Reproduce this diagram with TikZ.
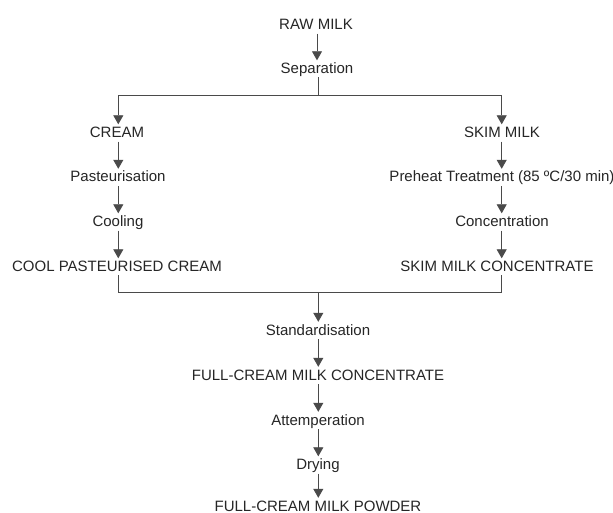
\documentclass[tikz,border=0pt]{standalone}
\usepackage{fontspec}
\setmainfont{Liberation Sans}
\usetikzlibrary{arrows.meta}
\definecolor{txt}{HTML}{262626}
\definecolor{ln}{HTML}{4A4A4A}
\tikzset{
  lbl/.style={anchor=base, inner sep=0pt, text height=11pt, text depth=3.5pt, text=txt, font=\fontsize{15}{18}\selectfont},
  ln/.style={draw=ln, line width=0.8pt},
  arr/.style={ln, -{Triangle[width=10pt,length=9pt]}, shorten <=0.5pt, shorten >=2pt}
}
\begin{document}
\begin{tikzpicture}[x=1pt,y=-1pt]
\useasboundingbox[fill=white] (0,0) rectangle (613,513);
% centre column
\node[lbl] (raw) at (316,29.5) {RAW MILK};
\node[lbl] (sep) at (317,73.5) {Separation};
% left column
\node[lbl] (cream) at (117,137.5) {CREAM};
\node[lbl] (past) at (118,182) {Pasteurisation};
\node[lbl] (cool) at (118,226.5) {Cooling};
\node[lbl] (cpc) at (117,271.5) {COOL PASTEURISED CREAM};
% right column
\node[lbl] (skim) at (502,137.5) {SKIM MILK};
\node[lbl] (pre) at (502,182) {Preheat Treatment (85 ºC/30 min)};
\node[lbl] (conc) at (502,226.5) {Concentration};
\node[lbl] (smc) at (497,271.5) {SKIM MILK CONCENTRATE};
% bottom column
\node[lbl] (std) at (318,335) {Standardisation};
\node[lbl] (fcmc) at (318,380) {FULL-CREAM MILK CONCENTRATE};
\node[lbl] (att) at (318,425) {Attemperation};
\node[lbl] (dry) at (318,469.5) {Drying};
\node[lbl, text depth=0pt] (fcmp) at (318,511) {FULL-CREAM MILK POWDER};
% split and merge points
\coordinate (split) at (318,95);
\coordinate (sl) at (118.3,95);
\coordinate (sr) at (501.7,95);
\coordinate (merge) at (318.3,292);
\coordinate (ml) at (118.3,292);
\coordinate (mr) at (501.7,292);
% connectors
\draw[arr] (raw.south -| 317,0) -- (sep.north -| 317,0);
\draw[ln] (sep.south -| split) -- (split);
\draw[ln] (sl) -- (sr);
\draw[arr] (sl) -- (cream.north -| sl);
\draw[arr] (sr) -- (skim.north -| sr);
\draw[arr] (cream.south -| sl) -- (past.north -| sl);
\draw[arr] (past.south -| sl) -- (cool.north -| sl);
\draw[arr] (cool.south -| sl) -- (cpc.north -| sl);
\draw[arr] (skim.south -| sr) -- (pre.north -| sr);
\draw[arr] (pre.south -| sr) -- (conc.north -| sr);
\draw[arr] (conc.south -| sr) -- (smc.north -| sr);
\draw[ln] (cpc.south -| ml) -- (ml) -- (mr) -- (smc.south -| mr);
\draw[arr] (merge) -- (std.north -| merge);
\draw[arr] (std.south -| merge) -- (fcmc.north -| merge);
\draw[arr] (fcmc.south -| merge) -- (att.north -| merge);
\draw[arr] (att.south -| merge) -- (dry.north -| merge);
\draw[arr] (dry.south -| merge) -- (fcmp.north -| merge);
\end{tikzpicture}
\end{document}
